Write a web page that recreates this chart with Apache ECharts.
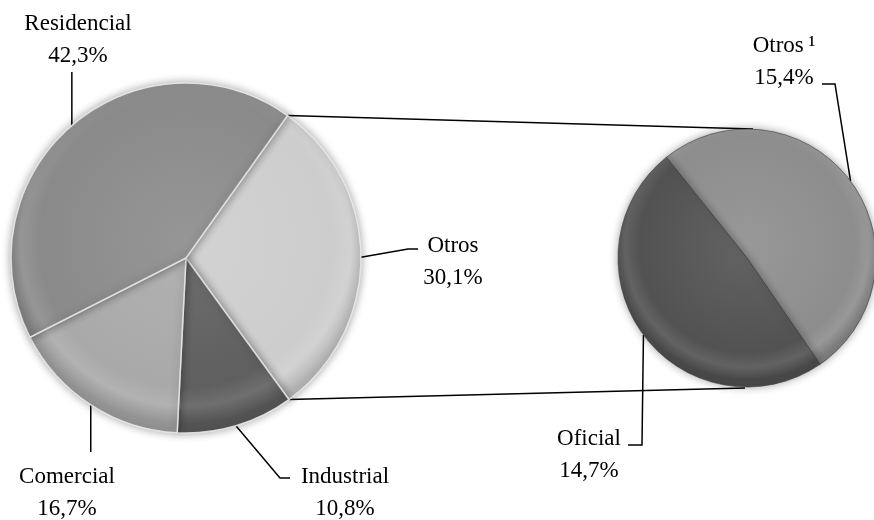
<!DOCTYPE html>
<html>
<head>
<meta charset="utf-8">
<script src="https://cdn.jsdelivr.net/npm/echarts@6/dist/echarts.min.js"></script>
<style>
  html, body { margin: 0; padding: 0; background: #fff; }
  #chart { width: 874px; height: 520px; }
</style>
</head>
<body>
<div id="chart"></div>
<script>
// datos del gráfico principal (orden horario desde el corte superior derecho)
var mainNames = ['Otros', 'Industrial', 'Comercial', 'Residencial'];
var mainValues = [30.1, 10.8, 16.7, 42.3];
var mainColors = ['#cdcdcd', '#5f5f5f', '#a9a9a9', '#8a8a8a'];

// desglose de "Otros"
var subNames = ['Otros\u2009\u00b9', 'Oficial'];
var subValues = [15.4, 14.7];
var subColors = ['#8d8d8d', '#525252'];

// geometría
var mainCenter = [186, 258], mainRadius = 175, mainStart = 54.5;
var subCenter = [747, 258], subRadius = 129, subStart = 128.7;

var font = 'Liberation Serif';

function fmt(v) {
    return v.toFixed(1).replace('.', ',') + '%';
}

function shade(hex, k) {
    var n = parseInt(hex.slice(1), 16);
    var c = [(n >> 16) & 255, (n >> 8) & 255, n & 255].map(function (x) {
        x = k > 0 ? x + (255 - x) * k : x * (1 + k);
        return Math.round(Math.max(0, Math.min(255, x)));
    });
    return 'rgb(' + c.join(',') + ')';
}

// relleno con bisel: degradado radial en coordenadas globales
function buildData(names, values, colors, center, radius) {
    return names.map(function (n, i) {
        var base = colors[i];
        return {
            name: n,
            value: values[i],
            itemStyle: {
                color: new echarts.graphic.RadialGradient(center[0], center[1] - radius * 0.1, radius * 1.1, [
                    { offset: 0, color: shade(base, 0.1) },
                    { offset: 0.76, color: base },
                    { offset: 0.86, color: shade(base, 0.1) },
                    { offset: 0.95, color: shade(base, -0.12) }
                ], true)
            }
        };
    });
}

// posiciones de etiquetas: centro x, y superior, puntos de la línea guía después del ancla
var mainLabelPos = {
    'Otros': { x: 453, y: 230, pts: [[408, 249], [418, 249]] },
    'Industrial': { x: 345, y: 461, pts: [[280, 478], [290, 478]] },
    'Comercial': { x: 67, y: 461, pts: [[null, 452]] },
    'Residencial': { x: 78, y: 8, pts: [[null, 72]] }
};
var subLabelPos = {
    'Otros\u2009\u00b9': { x: 784, y: 30, pts: [[835, 84], [822, 84]] },
    'Oficial': { x: 589, y: 423, pts: [[642, 445], [628, 445]] }
};

function makeLayout(table) {
    return function (params) {
        var p = table[params.text.split('\n')[0]];
        if (!p) return {};
        var a = params.labelLinePoints ? params.labelLinePoints[0] : [0, 0];
        var pts = [a];
        p.pts.forEach(function (q) {
            pts.push([q[0] === null ? a[0] : q[0], q[1]]);
        });
        if (pts.length < 3) pts.push(pts[pts.length - 1]);
        return {
            x: p.x,
            y: p.y,
            align: 'center',
            verticalAlign: 'top',
            labelLinePoints: pts
        };
    };
}

// extremos de la porción "Otros" en el pastel principal
function mainPoint(angleFromTop) {
    var r = angleFromTop * Math.PI / 180;
    return [mainCenter[0] + mainRadius * Math.sin(r), mainCenter[1] - mainRadius * Math.cos(r)];
}
var sumMain = mainValues.reduce(function (s, v) { return s + v; }, 0);
var a0 = 90 - mainStart;
var a1 = a0 + mainValues[0] / sumMain * 360;
var p0 = mainPoint(a0), p1 = mainPoint(a1);

var commonSeries = {
    type: 'pie',
    clockwise: true,
    avoidLabelOverlap: false,
    animation: false,
    label: {
        show: true,
        position: 'outside',
        fontFamily: font,
        fontSize: 23,
        lineHeight: 32,
        color: '#000',
        align: 'center',
        formatter: function (p) { return p.name + '\n' + fmt(p.value); }
    },
    labelLine: {
        show: true,
        length: 20,
        length2: 10,
        lineStyle: { color: '#000', width: 1.5 }
    },
    emphasis: { disabled: true }
};

var myChart = echarts.init(document.getElementById('chart'));
var option = {
    backgroundColor: '#fff',
    graphic: [
        { type: 'line', z: 0, shape: { x1: p0[0], y1: p0[1], x2: subCenter[0] + 6, y2: subCenter[1] - subRadius }, style: { stroke: '#000', lineWidth: 1.5 } },
        { type: 'line', z: 0, shape: { x1: p1[0], y1: p1[1], x2: subCenter[0] - 2, y2: subCenter[1] + subRadius + 1 }, style: { stroke: '#000', lineWidth: 1.5 } }
    ],
    series: [
        Object.assign({}, commonSeries, {
            name: 'Principal',
            center: mainCenter,
            radius: mainRadius,
            startAngle: mainStart,
            itemStyle: {
                borderColor: 'rgba(235,235,235,0.85)',
                borderWidth: 1.5,
                shadowBlur: 8,
                shadowColor: 'rgba(0,0,0,0.35)'
            },
            labelLayout: makeLayout(mainLabelPos),
            data: buildData(mainNames, mainValues, mainColors, mainCenter, mainRadius)
        }),
        Object.assign({}, commonSeries, {
            name: 'Otros',
            center: subCenter,
            radius: subRadius,
            startAngle: subStart,
            itemStyle: {
                borderColor: 'rgba(60,60,60,0.6)',
                borderWidth: 1,
                shadowBlur: 8,
                shadowColor: 'rgba(0,0,0,0.35)'
            },
            labelLayout: makeLayout(subLabelPos),
            data: buildData(subNames, subValues, subColors, subCenter, subRadius)
        })
    ]
};
myChart.setOption(option);
</script>
</body>
</html>
